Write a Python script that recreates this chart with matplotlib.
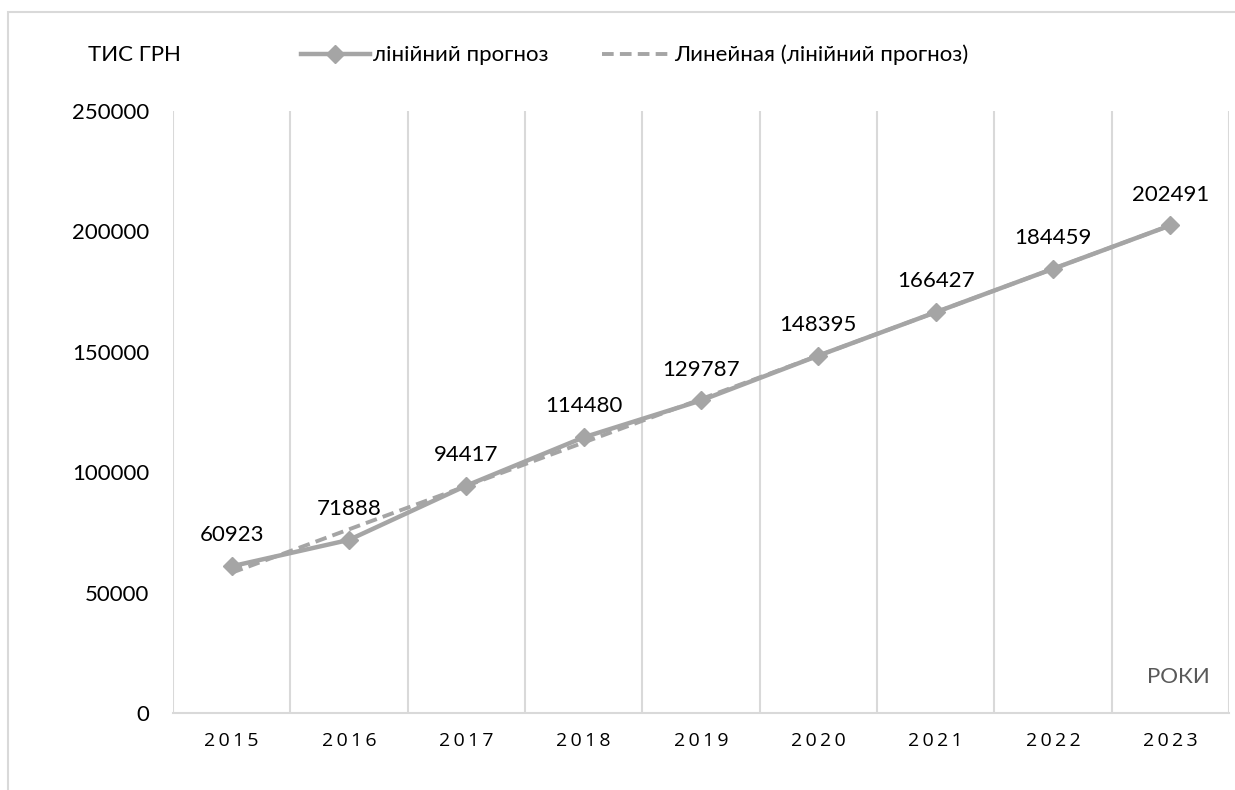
import numpy as np
import matplotlib
matplotlib.use("Agg")
import matplotlib.pyplot as plt
from matplotlib.patches import Rectangle
from matplotlib.lines import Line2D

plt.rcParams['font.family'] = ['Lato', 'Open Sans', 'DejaVu Sans']

# дані
years = [2015, 2016, 2017, 2018, 2019, 2020, 2021, 2022, 2023]
values = [60923, 71888, 94417, 114480, 129787, 148395, 166427, 184459, 202491]
y_ticks = [0, 50000, 100000, 150000, 200000, 250000]

grey = '#A5A5A5'
grid_c = '#D9D9D9'

fig = plt.figure(figsize=(12.35, 7.9), dpi=100)
ax = fig.add_axes([173/1235, 1 - 713/790, (1229 - 173)/1235, (713 - 111)/790])

x = np.arange(len(years))

# лінійний тренд (як у Excel)
k, b = np.polyfit(x, values, 1)
ax.plot(x, k * x + b, color=grey, lw=2.8, ls=(0, (3, 1.6)), zorder=2)

ax.plot(x, values, color=grey, lw=3.2, marker='D', ms=9, zorder=3)

for xi, v in zip(x, values):
    ax.annotate(str(v), (xi, v), xytext=(0, 15), textcoords='offset points',
                ha='center', va='bottom', fontsize=16, color='#000000')

ax.set_xlim(-0.5, len(years) - 0.5)
ax.set_ylim(0, 250000)
ax.set_yticks(y_ticks)
ax.set_yticklabels([str(t) for t in y_ticks], fontsize=16)
ax.set_xticks(x)
ax.set_xticklabels(['\u2009'.join(str(y)) for y in years], fontsize=14,
                   family=['Open Sans', 'DejaVu Sans'])
ax.set_xticks(np.arange(-0.5, len(years)), minor=True)
ax.grid(True, which='minor', axis='x', color=grid_c, lw=1.5)
ax.tick_params(axis='both', which='both', length=0)
ax.tick_params(axis='y', pad=17)
ax.tick_params(axis='x', pad=14)

for s in ['top', 'right', 'left']:
    ax.spines[s].set_visible(False)
ax.spines['bottom'].set_color(grid_c)
ax.spines['bottom'].set_linewidth(1.5)

fig.text(88/1235, 1 - 55/790, 'ТИС ГРН', fontsize=16, va='center', ha='left')
fig.text(1210/1235, 1 - 677/790, 'РОКИ', fontsize=16, va='center', ha='right',
         color='#595959')

# легенда
h1 = Line2D([], [], color=grey, lw=3.2, marker='D', ms=9)
h2 = Line2D([], [], color=grey, lw=2.8, ls=(0, (3, 1.6)))
fig.legend([h1, h2], ['лінійний прогноз', 'Линейная (лінійний прогноз)'],
           loc='center left', bbox_to_anchor=(292/1235, 1 - 55/790), ncol=2,
           frameon=False, fontsize=16, handlelength=3.1, handletextpad=0.15,
           columnspacing=2.4, borderaxespad=0)

# рамка діаграми
fig.patches.append(Rectangle((8/1235, -0.1), 1.2, 1 - 12/790 + 0.1,
                             transform=fig.transFigure, fill=False,
                             edgecolor=grid_c, lw=1.5))

fig.savefig('out.png', dpi=100, facecolor='white')
